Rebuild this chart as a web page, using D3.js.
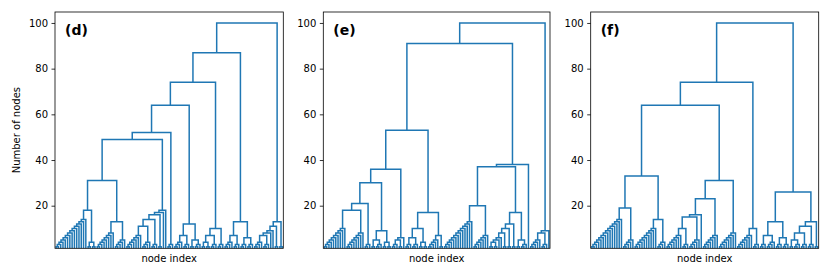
<!DOCTYPE html>
<html><head><meta charset="utf-8">
<script src="https://cdn.jsdelivr.net/npm/d3@7/dist/d3.min.js"></script>
<style>body{margin:0;background:#fff} text{font-family:"DejaVu Sans",sans-serif}</style>
</head><body><svg id="c" width="830" height="277"></svg>
<script>
// Trees: nested arrays = merges; a number k = chain of k leaves (each step adds one leaf on the right)
const panelLabels = ["(d)", "(e)", "(f)"];
const yTicks = [20, 40, 60, 80, 100];
const yLabel = "Number of nodes";
const xLabel = "node index";
const treeD = [[[[[[[[14,[2,2]],[8,5]],[[[[[7,4],3],2],1],1]],3],[[4,3],[2,3]]],[[[2,2],3],3]],[[4,3],[3,3]]],[[[[[4,3],1],1],2],2]];
const treeE = [[[[[[[10,8],3],[[2,3],[2,2]]],[[3,2],1]],[[[3,3],[2,2]],[5,2]]],[[[13,7],[[[[[[[2,2],1],1],2],2],2],[2,3]]],1]],[[5,3],1]];
const treeF = [[[[[14,5],[10,4]],[[[[[7,3],5],1],7],8]],[7,3]],[[[3,4],[3,3]],[[[[2,3],3],3],2]]];
const trees = [treeD, treeE, treeF];

const panels = [{x0:55, x1:283.3}, {x0:323.3, x1:550}, {x0:590.7, x1:818.7}];
const yTop = 12, yBottom = 248.3;
const color = "#1f77b4";

function expand(t){
  if (typeof t === "number"){
    let node = {};
    for (let i = 1; i < t; i++) node = {children:[node, {}]};
    return node;
  }
  return {children: t.map(expand)};
}

const svg = d3.select("#c");
const defs = svg.append("defs");

trees.forEach((t, pi) => {
  const P = panels[pi];
  const root = d3.hierarchy(expand(t)).count();
  const leaves = root.leaves();
  const n = leaves.length;
  leaves.forEach((l, i) => { l.px = 5 + 10*i; l.h = 0; });
  root.eachAfter(d => { if (d.children){ d.px = (d.children[0].px + d.children[1].px)/2; d.h = d.value; } });

  const x = d3.scaleLinear().domain([0, 10*n]).range([P.x0, P.x1]);
  const y = d3.scaleLinear().domain([1.35, 104.8]).range([yBottom, yTop]);

  const g = svg.append("g");
  defs.append("clipPath").attr("id", "clip"+pi).append("rect")
    .attr("x", P.x0).attr("y", yTop).attr("width", P.x1-P.x0).attr("height", yBottom-yTop);

  const paths = [];
  root.each(d => {
    if (d.children){
      const [a, b] = d.children;
      paths.push(`M${x(a.px)},${y(a.h)}V${y(d.h)}H${x(b.px)}V${y(b.h)}`);
    }
  });
  g.append("g").attr("clip-path", `url(#clip${pi})`)
    .selectAll("path").data(paths).join("path")
    .attr("d", d => d).attr("fill", "none").attr("stroke", color)
    .attr("stroke-width", 1.5).attr("stroke-linejoin", "miter");

  // y axis
  const ax = g.append("g").attr("transform", `translate(${P.x0},0)`)
    .call(d3.axisLeft(y).tickValues(yTicks).tickSize(3.5).tickPadding(3.5));
  ax.select(".domain").remove();
  ax.selectAll("line").attr("stroke", "#000").attr("stroke-width", 0.8);
  ax.selectAll("text").attr("font-size", 10).attr("fill", "#000")
    .attr("font-family", "DejaVu Sans, sans-serif");

  // frame
  g.append("rect").attr("x", P.x0).attr("y", yTop).attr("width", P.x1-P.x0).attr("height", yBottom-yTop)
    .attr("fill", "none").attr("stroke", "#000").attr("stroke-width", 0.8);

  g.append("text").attr("x", (P.x0+P.x1)/2).attr("y", 261.5).attr("text-anchor", "middle")
    .attr("font-size", 10).text(xLabel);
  g.append("text").attr("x", P.x0 + 10).attr("y", 35).attr("font-size", 14)
    .attr("font-weight", "bold").text(panelLabels[pi]);
});

svg.append("text").attr("transform", `translate(20,${(yTop+yBottom)/2}) rotate(-90)`)
  .attr("text-anchor", "middle").attr("font-size", 10).text(yLabel);
</script></body></html>
